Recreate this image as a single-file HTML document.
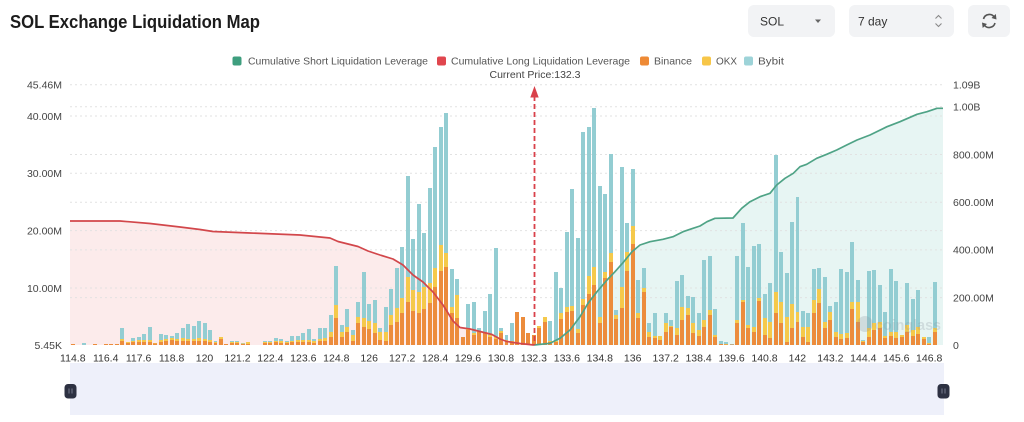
<!DOCTYPE html>
<html><head><meta charset="utf-8">
<style>
html,body{margin:0;padding:0;background:#fff;}
#wrap{position:relative;width:1024px;height:422px;overflow:hidden;background:#fff;font-family:"Liberation Sans",sans-serif;}
svg{position:absolute;left:0;top:0;}
#bars{position:absolute;left:70px;top:84px;width:873px;height:261px;display:grid;grid-template-columns:repeat(159,1fr);align-items:end;z-index:2;}
#bars b{--t:0;--o:0;--y:0;display:block;margin:0 0.75px;height:calc(var(--t)*1px);
background:linear-gradient(to top,#EC8C3C 0 calc(var(--o)*1px),#F5C94B calc(var(--o)*1px) calc(var(--y)*1px),#93CDD2 calc(var(--y)*1px));}
</style></head><body><div id="wrap">
<svg width="1024" height="422" style="z-index:1">
  <polygon fill="#FCEBEB" points="70,345 70,221 120,221 150,223.5 180,227 200,229.5 213,231.5 250,233 300,235 330,238 338,241.5 358,246.5 368,251 380,255 393,259 403,265 413,275 423,282 433,292 443,305 453,321 460,327.5 470,329 480,331.5 492,334.5 500,339 507,341.5 520,343.5 534,345"/>
  <polygon fill="#E7F5F3" points="534,345 550,343.3 560,338.3 570,330 580,316.7 588,303.3 597,291.7 607,280 615,271.7 623,262.7 632,251.7 640,245 650,241.7 663,239.3 673,236.7 683,231.7 693,228.3 700,226 707,221.7 715,218.3 733,218 741.7,208.3 750,201.7 760,196.7 770,193.3 776.7,185 785,178.3 793.3,173.3 800,166.7 806.7,164.3 816.7,158.3 826.7,154.3 836.7,150 846.7,145 857,140 870,135 887,126.7 900,121.7 917,114.3 927,111.7 937,108.3 943,108.3 943,345"/>
  <g stroke="#E2E2E2" stroke-width="1" stroke-dasharray="2 3">
    <line x1="70" x2="943" y1="84.7" y2="84.7"/>
    <line x1="70" x2="943" y1="106.8" y2="106.8"/>
    <line x1="70" x2="943" y1="116" y2="116"/>
    <line x1="70" x2="943" y1="154.5" y2="154.5"/>
    <line x1="70" x2="943" y1="173.3" y2="173.3"/>
    <line x1="70" x2="943" y1="202.2" y2="202.2"/>
    <line x1="70" x2="943" y1="230.6" y2="230.6"/>
    <line x1="70" x2="943" y1="249.9" y2="249.9"/>
    <line x1="70" x2="943" y1="288" y2="288"/>
    <line x1="70" x2="943" y1="297.6" y2="297.6"/>
  </g>
</svg>
<div id="bars">
<b style="--t:1;--o:1;--y:1"></b><b></b><b style="--t:2"></b><b></b><b style="--t:1;--o:1;--y:1"></b><b></b><b style="--t:1;--o:1;--y:1"></b><b style="--t:1;--o:1;--y:1"></b><b style="--t:1.5;--o:1;--y:1.5"></b><b style="--t:17;--o:4;--y:6"></b>
<b style="--t:3;--o:2;--y:3"></b><b style="--t:7;--o:3;--y:4"></b><b style="--t:8;--o:3;--y:5"></b><b style="--t:11;--o:3;--y:5"></b><b style="--t:18;--o:3;--y:5"></b><b style="--t:2;--o:1.5;--y:2"></b><b style="--t:11;--o:3;--y:5"></b><b style="--t:10;--o:4;--y:6"></b><b style="--t:9;--o:5;--y:7"></b><b style="--t:12;--o:4;--y:6"></b>
<b style="--t:17;--o:4;--y:7"></b><b style="--t:21;--o:4;--y:6"></b><b style="--t:19;--o:4;--y:6"></b><b style="--t:24;--o:4;--y:7"></b><b style="--t:22;--o:4;--y:6"></b><b style="--t:15;--o:3;--y:5"></b><b style="--t:4;--o:2;--y:3"></b><b style="--t:8;--o:6;--y:8"></b><b style="--t:1;--o:1;--y:1"></b><b style="--t:4;--o:2;--y:3"></b>
<b style="--t:4;--o:2;--y:3"></b><b style="--t:2;--o:1;--y:1.5"></b><b style="--t:3;--o:1;--y:3"></b><b></b><b style="--t:0.5;--o:0.5;--y:0.5"></b><b style="--t:4;--o:2;--y:3"></b><b style="--t:4;--o:2;--y:3"></b><b style="--t:7;--o:3;--y:4"></b><b style="--t:6;--o:2;--y:4"></b><b style="--t:4;--o:2;--y:3"></b>
<b style="--t:9;--o:3;--y:4"></b><b style="--t:9;--o:3;--y:5"></b><b style="--t:12;--o:3;--y:5"></b><b style="--t:16;--o:3;--y:5"></b><b style="--t:6;--o:2;--y:4"></b><b style="--t:17;--o:4;--y:6"></b><b style="--t:17;--o:4;--y:7"></b><b style="--t:30;--o:8;--y:13"></b><b style="--t:79;--o:27;--y:40"></b><b style="--t:20;--o:8;--y:13"></b>
<b style="--t:36;--o:13;--y:18"></b><b style="--t:15;--o:4;--y:10"></b><b style="--t:43;--o:22;--y:28"></b><b style="--t:73;--o:18;--y:27"></b><b style="--t:41;--o:16;--y:24"></b><b style="--t:45;--o:12;--y:22"></b><b style="--t:17;--o:5;--y:13"></b><b style="--t:38;--o:4;--y:13"></b><b style="--t:56;--o:20;--y:30"></b><b style="--t:77;--o:23;--y:37"></b>
<b style="--t:98;--o:32;--y:47"></b><b style="--t:169;--o:43;--y:68"></b><b style="--t:106;--o:34;--y:55"></b><b style="--t:141;--o:32;--y:53"></b><b style="--t:112;--o:36;--y:58"></b><b style="--t:157;--o:42;--y:62"></b><b style="--t:198;--o:58;--y:77"></b><b style="--t:218;--o:74;--y:100"></b><b style="--t:232;--o:78;--y:92"></b><b style="--t:76;--o:32;--y:38"></b>
<b style="--t:66;--o:27;--y:50"></b><b style="--t:8;--o:8;--y:8"></b><b style="--t:41;--o:15;--y:17"></b><b style="--t:43;--o:10;--y:12"></b><b style="--t:17;--o:13;--y:14"></b><b style="--t:34;--o:12;--y:13"></b><b style="--t:51;--o:8;--y:10"></b><b style="--t:97;--o:6;--y:8"></b><b style="--t:17;--o:12;--y:14"></b><b style="--t:10;--o:4;--y:5"></b>
<b style="--t:22;--o:3;--y:4"></b><b style="--t:33;--o:33;--y:33"></b><b style="--t:28;--o:28;--y:28"></b><b style="--t:12;--o:12;--y:12"></b><b style="--t:10;--o:10;--y:10"></b><b style="--t:19;--o:17;--y:19"></b><b style="--t:28;--o:23;--y:28"></b><b style="--t:24;--o:3;--y:4"></b><b style="--t:73;--o:3;--y:4"></b><b style="--t:57;--o:26;--y:32"></b>
<b style="--t:113;--o:33;--y:38"></b><b style="--t:156;--o:34;--y:39"></b><b style="--t:107;--o:12;--y:16"></b><b style="--t:213;--o:40;--y:46"></b><b style="--t:218;--o:51;--y:69"></b><b style="--t:237;--o:60;--y:78"></b><b style="--t:159;--o:22;--y:28"></b><b style="--t:151;--o:67;--y:73"></b><b style="--t:191;--o:83;--y:92"></b><b style="--t:35;--o:26;--y:30"></b>
<b style="--t:178;--o:37;--y:58"></b><b style="--t:122;--o:74;--y:93"></b><b style="--t:176;--o:101;--y:119"></b><b style="--t:65;--o:27;--y:32"></b><b style="--t:77;--o:53;--y:57"></b><b style="--t:22;--o:8;--y:13"></b><b style="--t:32;--o:7;--y:9"></b><b style="--t:9;--o:5;--y:9"></b><b style="--t:32;--o:13;--y:22"></b><b style="--t:25;--o:18;--y:19"></b>
<b style="--t:64;--o:10;--y:17"></b><b style="--t:70;--o:25;--y:38"></b><b style="--t:49;--o:30;--y:37"></b><b style="--t:48;--o:12;--y:22"></b><b style="--t:32;--o:9;--y:15"></b><b style="--t:85;--o:18;--y:25"></b><b style="--t:89;--o:30;--y:35"></b><b style="--t:36;--o:8;--y:10"></b><b style="--t:4;--o:1;--y:1"></b><b style="--t:3;--o:0.5;--y:1"></b>
<b style="--t:1;--o:0.5;--y:0.5"></b><b style="--t:89;--o:22;--y:25"></b><b style="--t:122;--o:43;--y:45"></b><b style="--t:78;--o:17;--y:20"></b><b style="--t:99;--o:13;--y:18"></b><b style="--t:101;--o:44;--y:47"></b><b style="--t:51;--o:10;--y:27"></b><b style="--t:62;--o:7;--y:23"></b><b style="--t:190;--o:32;--y:53"></b><b style="--t:93;--o:22;--y:43"></b>
<b style="--t:72;--o:3;--y:28"></b><b style="--t:123;--o:17;--y:41"></b><b style="--t:148;--o:23;--y:33"></b><b style="--t:34;--o:8;--y:18"></b><b style="--t:32;--o:3;--y:18"></b><b style="--t:76;--o:32;--y:45"></b><b style="--t:77;--o:42;--y:56"></b><b style="--t:68;--o:17;--y:23"></b><b style="--t:39;--o:25;--y:33"></b><b style="--t:43;--o:8;--y:13"></b>
<b style="--t:76;--o:6;--y:11"></b><b style="--t:73;--o:7;--y:12"></b><b style="--t:103;--o:36;--y:43"></b><b style="--t:65;--o:23;--y:43"></b><b style="--t:5;--o:3;--y:4"></b><b style="--t:74;--o:8;--y:17"></b><b style="--t:75;--o:15;--y:22"></b><b style="--t:60;--o:17;--y:23"></b><b style="--t:33;--o:7;--y:9"></b><b style="--t:76;--o:9;--y:13"></b>
<b style="--t:64;--o:7;--y:13"></b><b style="--t:10;--o:8;--y:10"></b><b style="--t:62;--o:13;--y:20"></b><b style="--t:46;--o:9;--y:15"></b><b style="--t:55;--o:11;--y:18"></b><b style="--t:8;--o:6;--y:8"></b><b style="--t:8;--o:1;--y:2"></b><b style="--t:63;--o:13;--y:17"></b><b></b>
</div>
<svg width="1024" height="422" style="z-index:3">
  <polyline fill="none" stroke="#D2474B" stroke-width="1.7" stroke-linejoin="round" points="70,221 120,221 150,223.5 180,227 200,229.5 213,231.5 250,233 300,235 330,238 338,241.5 358,246.5 368,251 380,255 393,259 403,265 413,275 423,282 433,292 443,305 453,321 460,327.5 470,329 480,331.5 492,334.5 500,339 507,341.5 520,343.5 534,345"/>
  <polyline fill="none" stroke="#4FA386" stroke-width="1.7" stroke-linejoin="round" points="534,345 550,343.3 560,338.3 570,330 580,316.7 588,303.3 597,291.7 607,280 615,271.7 623,262.7 632,251.7 640,245 650,241.7 663,239.3 673,236.7 683,231.7 693,228.3 700,226 707,221.7 715,218.3 733,218 741.7,208.3 750,201.7 760,196.7 770,193.3 776.7,185 785,178.3 793.3,173.3 800,166.7 806.7,164.3 816.7,158.3 826.7,154.3 836.7,150 846.7,145 857,140 870,135 887,126.7 900,121.7 917,114.3 927,111.7 937,108.3 943,108.3"/>
  <line x1="534.5" x2="534.5" y1="96" y2="345" stroke="#D9414A" stroke-width="1.8" stroke-dasharray="5 3"/>
  <polygon points="530.3,97.5 534.5,86 538.7,97.5" fill="#D9414A"/>
  <text x="535" y="78" font-size="10.5" fill="#444" text-anchor="middle" textLength="91" lengthAdjust="spacingAndGlyphs">Current Price:132.3</text>
  <g opacity="0.25">
    <circle cx="865" cy="324" r="8" fill="#8a94a0"/>
    <text x="875" y="330" font-size="15" font-weight="bold" fill="#8a94a0" textLength="66" lengthAdjust="spacingAndGlyphs">coinglass</text>
  </g>
  <text x="10" y="28" font-size="18" font-weight="bold" fill="#1c1c1c" textLength="250" lengthAdjust="spacingAndGlyphs">SOL Exchange Liquidation Map</text>
  <rect x="748" y="5" width="87" height="32" rx="6" fill="#F2F3F5"/>
  <text x="760" y="25.5" font-size="12" fill="#333">SOL</text>
  <polygon points="815,19.5 821,19.5 818,23" fill="#666"/>
  <rect x="849" y="5" width="105" height="32" rx="6" fill="#F2F3F5"/>
  <text x="858" y="25.5" font-size="12" fill="#333">7 day</text>
  <path d="M935.5,18.5 L938.5,15.5 L941.5,18.5 M935.5,23.5 L938.5,26.5 L941.5,23.5" fill="none" stroke="#888" stroke-width="1.1"/>
  <rect x="968" y="5" width="42" height="32" rx="6" fill="#F2F3F5"/>
  <path d="M983.5,19 A6,6 0 0 1 994.5,17.5 M995,23 A6,6 0 0 1 984,24.5" fill="none" stroke="#555" stroke-width="1.6"/>
  <polygon points="995.8,14 996.5,19.5 991.5,18" fill="#555"/>
  <polygon points="982.7,28 982,22.5 987,24" fill="#555"/>
  <rect x="232.5" y="56.5" width="9" height="9" rx="2" fill="#3E9E7E"/>
  <text x="248" y="64.5" font-size="10.5" fill="#555" textLength="180" lengthAdjust="spacingAndGlyphs">Cumulative Short Liquidation Leverage</text>
  <rect x="437" y="56.5" width="9" height="9" rx="2" fill="#E0464E"/>
  <text x="451" y="64.5" font-size="10.5" fill="#555" textLength="179" lengthAdjust="spacingAndGlyphs">Cumulative Long Liquidation Leverage</text>
  <rect x="640" y="56.5" width="9" height="9" rx="2" fill="#EE8A35"/>
  <text x="654" y="64.5" font-size="10.5" fill="#555" textLength="38" lengthAdjust="spacingAndGlyphs">Binance</text>
  <rect x="702" y="56.5" width="9" height="9" rx="2" fill="#F7C648"/>
  <text x="716" y="64.5" font-size="10.5" fill="#555" textLength="21" lengthAdjust="spacingAndGlyphs">OKX</text>
  <rect x="744" y="56.5" width="9" height="9" rx="2" fill="#9DD3D8"/>
  <text x="758" y="64.5" font-size="10.5" fill="#555" textLength="26" lengthAdjust="spacingAndGlyphs">Bybit</text>
  <g font-size="10.5" fill="#444" text-anchor="end">
    <text x="62" y="88.5">45.46M</text>
    <text x="62" y="119.8">40.00M</text>
    <text x="62" y="177.1">30.00M</text>
    <text x="62" y="234.4">20.00M</text>
    <text x="62" y="291.8">10.00M</text>
    <text x="62" y="349">5.45K</text>
  </g>
  <g font-size="10.5" fill="#444">
    <text x="953" y="88.5">1.09B</text>
    <text x="953" y="110.6">1.00B</text>
    <text x="953" y="158.3">800.00M</text>
    <text x="953" y="206">600.00M</text>
    <text x="953" y="253.7">400.00M</text>
    <text x="953" y="301.4">200.00M</text>
    <text x="953" y="349">0</text>
  </g>
  <g font-size="10.5" fill="#333" text-anchor="middle">
    <text x="72.8" y="361.5">114.8</text>
    <text x="105.7" y="361.5">116.4</text>
    <text x="138.6" y="361.5">117.6</text>
    <text x="171.6" y="361.5">118.8</text>
    <text x="204.5" y="361.5">120</text>
    <text x="237.5" y="361.5">121.2</text>
    <text x="270.4" y="361.5">122.4</text>
    <text x="303.3" y="361.5">123.6</text>
    <text x="336.3" y="361.5">124.8</text>
    <text x="369.2" y="361.5">126</text>
    <text x="402.2" y="361.5">127.2</text>
    <text x="435.1" y="361.5">128.4</text>
    <text x="468" y="361.5">129.6</text>
    <text x="501" y="361.5">130.8</text>
    <text x="533.9" y="361.5">132.3</text>
    <text x="566.9" y="361.5">133.6</text>
    <text x="599.8" y="361.5">134.8</text>
    <text x="632.7" y="361.5">136</text>
    <text x="665.7" y="361.5">137.2</text>
    <text x="698.6" y="361.5">138.4</text>
    <text x="731.6" y="361.5">139.6</text>
    <text x="764.5" y="361.5">140.8</text>
    <text x="797.4" y="361.5">142</text>
    <text x="830.4" y="361.5">143.2</text>
    <text x="863.3" y="361.5">144.4</text>
    <text x="896.3" y="361.5">145.6</text>
    <text x="929.2" y="361.5">146.8</text>
  </g>
  <rect x="70" y="363" width="874" height="52" fill="#EEF0FA"/>
  <rect x="64.5" y="384" width="12" height="14.5" rx="3.5" fill="#2D3142"/>
  <path d="M69,388.5 V393.5 M72,388.5 V393.5" stroke="#8a8fa0" stroke-width="0.8"/>
  <rect x="937.5" y="384" width="12" height="14.5" rx="3.5" fill="#2D3142"/>
  <path d="M942,388.5 V393.5 M945,388.5 V393.5" stroke="#8a8fa0" stroke-width="0.8"/>
</svg>
</div></body></html>
